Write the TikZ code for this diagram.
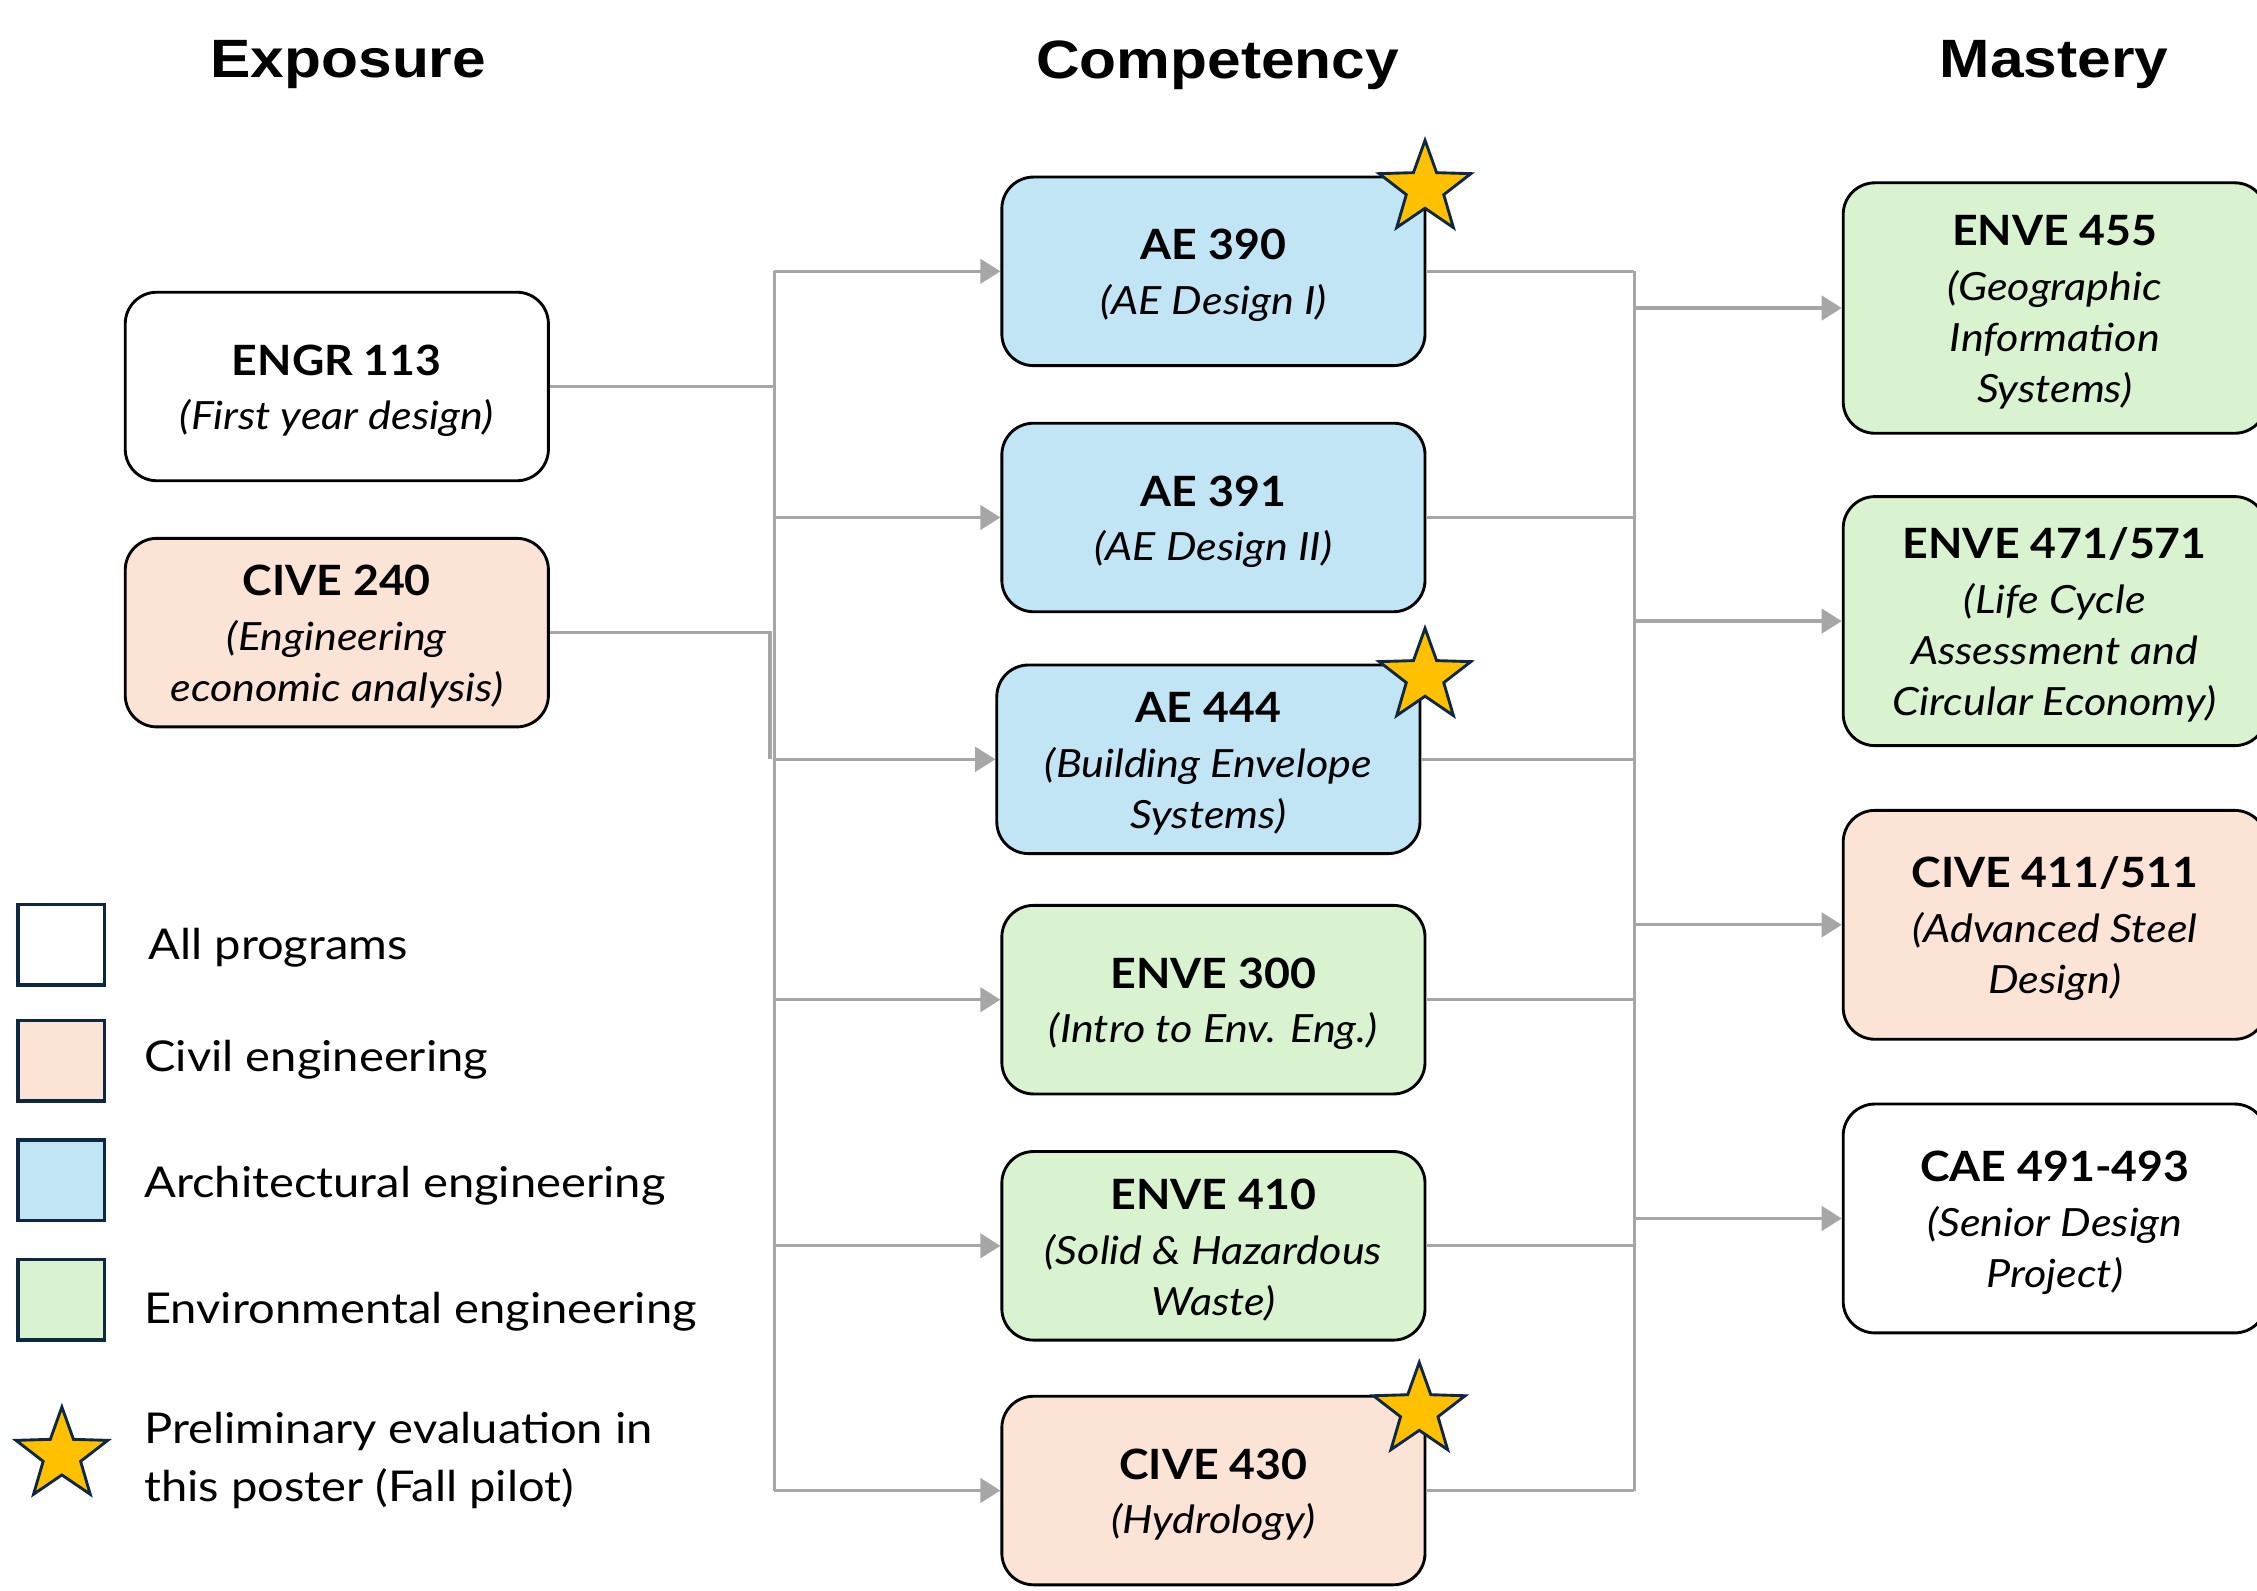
\documentclass[tikz,border=0pt]{standalone}
\usepackage{fontspec}
\setmainfont{Lato}
\newfontfamily\titlefont[FakeStretch=1.12]{Liberation Sans}
\newfontfamily\codefont[FakeStretch=1.07]{Lato}
\newfontfamily\itfont[FakeStretch=1.11]{Lato}
\newfontfamily\legfont[FakeStretch=1.11]{Lato}
\usetikzlibrary{arrows.meta,shapes.geometric}
\definecolor{peach}{HTML}{FBE3D6}
\definecolor{lblue}{HTML}{C1E5F5}
\definecolor{lgreen}{HTML}{D9F2D0}
\definecolor{conn}{HTML}{A6A6A6}
\definecolor{navy}{HTML}{0E2841}
\definecolor{gold}{HTML}{FFC000}
\newcommand{\cc}[1]{{\codefont\upshape\bfseries\fontsize{29}{38}\selectfont\rule{0pt}{27pt}#1}}
\begin{document}
\begin{tikzpicture}[x=1pt,y=-1pt,
  course/.style={draw=black, line width=2pt, rounded corners=22pt,
    minimum width=294pt, minimum height=131pt, align=center, inner sep=0pt,
    font=\itfont\itshape\fontsize{27}{35.5}\selectfont},
  title/.style={font=\titlefont\bfseries\fontsize{37.5}{45}\selectfont},
  conn/.style={draw=conn, line width=2.3pt},
  arr/.style={conn, -{Triangle[length=14pt,width=17pt]}},
  prize/.style={star, star points=5, star point ratio=2.45, fill=gold, draw=navy,
    line width=2pt, minimum size=67pt, inner sep=0pt},
  legbox/.style={draw=navy, line width=2.5pt, minimum width=60pt, minimum height=56pt, inner sep=0pt},
  legtext/.style={anchor=west, inner sep=0pt, font=\legfont\fontsize{29.5}{40}\selectfont, align=left}]
\useasboundingbox (0,0) rectangle (1568,1105);

% titles
\node[title] (t1) at (242,45) {Exposure};
\node[title] (t2) at (846,45) {Competency};
\node[title] (t3) at (1427,45) {Mastery};

% exposure
\node[course, fill=white] (engr) at (234,268.5) {\cc{ENGR 113}\\[2.5pt](First year design)};
\node[course, fill=peach] (cive240) at (234,439.5) {\cc{CIVE 240}\\[2.5pt](Engineering\\economic analysis)};

% competency
\node[course, fill=lblue] (ae390) at (843,188.5) {\cc{AE 390}\\[2.5pt](AE Design I)};
\node[course, fill=lblue] (ae391) at (843,359.5) {\cc{AE 391}\\[2.5pt](AE Design II)};
\node[course, fill=lblue] (ae444) at (839.5,527.5) {\cc{AE 444}\\[2.5pt](Building Envelope\\Systems)};
\node[course, fill=lgreen] (enve300) at (843,694.5) {\cc{ENVE 300}\\[2.5pt](Intro to Env. Eng.)};
\node[course, fill=lgreen] (enve410) at (843,865.5) {\cc{ENVE 410}\\[2.5pt](Solid \& Hazardous\\Waste)};
\node[course, fill=peach] (cive430) at (843,1035.5) {\cc{CIVE 430}\\[2.5pt](Hydrology)};

% mastery
\node[course, fill=lgreen, minimum height=174pt] (enve455) at (1427.5,214) {\cc{ENVE 455}\\[2.5pt](Geographic\\Information\\Systems)};
\node[course, fill=lgreen, minimum height=173pt] (enve471) at (1427.5,431.5) {\cc{ENVE 471/571}\\[2.5pt](Life Cycle\\Assessment and\\Circular Economy)};
\node[course, fill=peach, minimum height=159pt] (cive411) at (1427.5,642.5) {\cc{CIVE 411/511}\\[2.5pt](Advanced Steel\\Design)};
\node[course, fill=white, minimum height=159pt] (cae491) at (1427.5,846.5) {\cc{CAE 491-493}\\[2.5pt](Senior Design\\Project)};

% connectors left
\coordinate (lt) at (538,0);
\coordinate (lc) at (535,0);
\coordinate (rt) at (1135.5,0);
\draw[conn] (ae390.west -| lt) -- (cive430.west -| lt);
\draw[conn] (engr.east) -- (engr.east -| lt);
\draw[conn] (cive240.east) -| (ae444.west -| lc);
\foreach \n in {ae390,ae391,ae444,enve300,enve410,cive430}
  \draw[arr] (\n.west -| lt) -- (\n.west);
% connectors right
\draw[conn] (ae390.east -| rt) -- (cive430.east -| rt);
\foreach \n in {ae390,ae391,ae444,enve300,enve410,cive430}
  \draw[conn] (\n.east) -- (\n.east -| rt);
\foreach \n in {enve455,enve471,cive411,cae491}
  \draw[arr] (\n.west -| rt) -- (\n.west);

% stars
\node[prize] (s1) at (990,131) {};
\node[prize] (s2) at (990,470) {};
\node[prize] (s3) at (986,980) {};

% legend
\node[legbox, fill=white] (l1) at (42.5,656.5) {};
\node[legbox, fill=peach] (l2) at (42.5,737) {};
\node[legbox, fill=lblue] (l3) at (42.5,820) {};
\node[legbox, fill=lgreen] (l4) at (42.5,903) {};
\node[prize] (l5) at (43,1011) {};
\node[legtext] (lt1) at (103,658.5) {All programs};
\node[legtext] (lt2) at (100,736.5) {Civil engineering};
\node[legtext] (lt3) at (100,823.5) {Architectural engineering};
\node[legtext] (lt4) at (100,911.5) {Environmental engineering};
\node[legtext] (lt5) at (100,1014.5) {Preliminary evaluation in\\this poster (Fall pilot)};
\end{tikzpicture}
\end{document}
